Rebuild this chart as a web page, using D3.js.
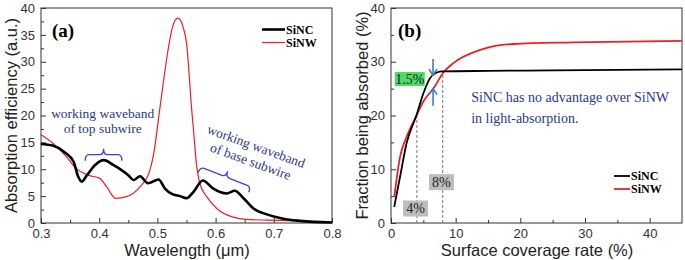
<!DOCTYPE html>
<html>
<head>
<meta charset="utf-8">
<script src="https://cdn.jsdelivr.net/npm/d3@7"></script>
<style>
  body { margin: 0; background: #fff; }
  svg { display: block; }
  .tick text { font-family: "Liberation Sans", Arial, sans-serif; font-size: 13px; fill: #333; }
  .axis path, .axis line { stroke: #333; }
  .title { font-family: "Liberation Sans", Arial, sans-serif; font-size: 16.5px; fill: #222; }
  .serif { font-family: "Liberation Serif", "Times New Roman", serif; }
</style>
</head>
<body>
<svg id="chart" width="685" height="260"></svg>
<script>
// panel (a): absorption efficiency vs wavelength
var wl_nc  = [0.30,0.32,0.34,0.356,0.364,0.370,0.379,0.393,0.408,0.424,0.439,0.450,0.459,0.470,0.484,0.502,0.513,0.525,0.539,0.550,0.562,0.578,0.596,0.619,0.633,0.648,0.665,0.688,0.716,0.745,0.80]
  , abs_nc = [14.7,14.4,13.2,11.4,8.6,7.7,8.9,10.8,11.7,10.8,9.8,8.9,8.0,8.7,7.4,8.1,6.4,5.4,5.0,4.6,5.8,7.9,6.4,5.5,6.0,4.6,2.7,1.6,0.8,0.4,0.1];
var wl_nw  = [0.30,0.321,0.344,0.358,0.381,0.401,0.413,0.428,0.447,0.470,0.487,0.495,0.502,0.510,0.518,0.526,0.535,0.544,0.550,0.559,0.562,0.567,0.573,0.585,0.602,0.630,0.659,0.717,0.80]
  , abs_nw = [16.4,14.8,12.3,10.4,8.9,8.3,6.7,4.6,4.9,6.7,9.8,13.8,19.5,26,32,36.5,38.1,36.5,33.5,21,17.3,11.1,7.3,4.85,2.7,1.1,0.63,0.5,0.1];

// panel (b): fraction absorbed vs surface coverage
var cov_nc  = [0.5,1.4,2.4,3.9,5.0,6.0,7.1,7.9,15,25,35,45]
  , frac_nc = [3.0,8.6,14.8,19.9,24.1,26.9,28.0,28.2,28.3,28.4,28.5,28.6];
var cov_nw  = [0.5,1.4,2.4,3.9,5.0,6.6,8.1,9.6,13.8,18.9,28.2,45]
  , frac_nw = [4.8,12.3,16.0,19.9,22.6,25.1,28.0,29.7,32.2,33.3,33.6,33.9];

var series_names = ["SiNC","SiNW"]
  , wl_ticks = [0.3,0.4,0.5,0.6,0.7,0.8]
  , abs_ticks = [0,5,10,15,20,25,30,35,40]
  , cov_ticks = [0,10,20,30,40]
  , frac_ticks = [0,10,20,30,40];

var svg = d3.select("#chart")
  , top_y = 8
  , bottom_y = 223
  , navy = "#2b3889"
  , brace_blue = "#3a3fe0";

function zip(xs, ys){ return xs.map((d,i) => [d, ys[i]]); }

// curly brace along x, opening downward, tip at top
function brace(x1, x2, h){
  var xm = (x1+x2)/2, r = 4;
  return "M"+x1+",0 Q"+x1+","+(-h/2)+" "+(x1+r)+","+(-h/2)
    +" L"+(xm-r)+","+(-h/2)+" Q"+xm+","+(-h/2)+" "+xm+","+(-h)
    +" Q"+xm+","+(-h/2)+" "+(xm+r)+","+(-h/2)
    +" L"+(x2-r)+","+(-h/2)+" Q"+x2+","+(-h/2)+" "+x2+",0";
}

function drawAxes(g, x, y, xt, yt, xfmt, xminor, yminor){
  var w = x.range()[1]-x.range()[0];
  // frame
  g.append("rect")
    .attr("x", x.range()[0]).attr("y", top_y)
    .attr("width", w).attr("height", bottom_y-top_y)
    .attr("fill","none").attr("stroke","#333").attr("stroke-width",1);
  g.append("g").attr("class","axis")
    .attr("transform","translate(0,"+bottom_y+")")
    .call(d3.axisBottom(x).tickValues(xt).tickFormat(xfmt).tickSizeInner(-5).tickSizeOuter(0).tickPadding(6))
    .call(a => a.select(".domain").remove());
  g.append("g").attr("class","axis")
    .attr("transform","translate(0,"+bottom_y+")")
    .call(d3.axisBottom(x).tickValues(xminor).tickFormat("").tickSizeInner(-3).tickSizeOuter(0))
    .call(a => a.select(".domain").remove());
  g.append("g").attr("class","axis")
    .attr("transform","translate("+x.range()[0]+",0)")
    .call(d3.axisLeft(y).tickValues(yt).tickSizeInner(-5).tickSizeOuter(0).tickPadding(6))
    .call(a => a.select(".domain").remove());
  g.append("g").attr("class","axis")
    .attr("transform","translate("+x.range()[0]+",0)")
    .call(d3.axisLeft(y).tickValues(yminor).tickFormat("").tickSizeInner(-3).tickSizeOuter(0))
    .call(a => a.select(".domain").remove());
}

function legend(g, x0, y0, len, widths){
  var colors = ["#000","#e8202a"];
  series_names.forEach(function(name,i){
    g.append("line")
      .attr("x1",x0).attr("x2",x0+len)
      .attr("y1",y0+i*13).attr("y2",y0+i*13)
      .attr("stroke",colors[i]).attr("stroke-width",widths[i]);
    g.append("text").attr("class","serif")
      .attr("x",x0+len+1).attr("y",y0+i*13+4)
      .attr("font-size",12).attr("font-weight","bold")
      .text(name);
  });
}

// ---------- panel (a) ----------
var ga = svg.append("g");
var xa = d3.scaleLinear().domain([0.3,0.8]).range([41,332])
  , ya = d3.scaleLinear().domain([0,40]).range([bottom_y,top_y]);

drawAxes(ga, xa, ya, wl_ticks, abs_ticks, d3.format(".1f"),
  [0.35,0.45,0.55,0.65,0.75], [2.5,7.5,12.5,17.5,22.5,27.5,32.5,37.5]);

var linea = d3.line().x(d => xa(d[0])).y(d => ya(d[1])).curve(d3.curveMonotoneX);
ga.append("path").datum(zip(wl_nw,abs_nw))
  .attr("d",linea).attr("fill","none").attr("stroke","#e8202a").attr("stroke-width",1.2);
ga.append("path").datum(zip(wl_nc,abs_nc))
  .attr("d",linea).attr("fill","none").attr("stroke","#000").attr("stroke-width",2.6);

ga.append("text").attr("class","serif")
  .attr("x",52).attr("y",37).attr("font-size",19).attr("font-weight","bold").text("(a)");
legend(ga, 262, 29.5, 23, [2.6,1.2]);

// top subwire note
ga.append("text").attr("class","serif").attr("fill",navy).attr("font-size",13.5)
  .attr("x",xa(0.406)).attr("y",ya(19.6)).attr("text-anchor","middle").text("working waveband");
ga.append("text").attr("class","serif").attr("fill",navy).attr("font-size",13.5)
  .attr("x",xa(0.406)).attr("y",ya(16.7)).attr("text-anchor","middle").text("of top subwire");
ga.append("path")
  .attr("transform","translate(0,"+ya(11.6)+")")
  .attr("d",brace(xa(0.376),xa(0.439),12))
  .attr("fill","none").attr("stroke",brace_blue).attr("stroke-width",1.3);

// base subwire note (rotated)
var gb_note = ga.append("g")
  .attr("transform","translate("+xa(0.667)+","+ya(13.5)+") rotate(20)");
gb_note.append("text").attr("class","serif").attr("fill",navy).attr("font-size",13.5)
  .attr("text-anchor","middle").attr("y",0).text("working waveband");
gb_note.append("text").attr("class","serif").attr("fill",navy).attr("font-size",13.5)
  .attr("text-anchor","middle").attr("y",16).text("of base subwire");
var bx1 = xa(0.57), by1 = ya(9.4), bx2 = xa(0.657), by2 = ya(5.7)
  , blen = Math.hypot(bx2-bx1, by2-by1)
  , bang = Math.atan2(by2-by1, bx2-bx1)*180/Math.PI;
ga.append("path")
  .attr("transform","translate("+bx1+","+by1+") rotate("+bang+")")
  .attr("d",brace(0,blen,12))
  .attr("fill","none").attr("stroke",brace_blue).attr("stroke-width",1.3);

ga.append("text").attr("class","title")
  .attr("x",187).attr("y",256).attr("text-anchor","middle").text("Wavelength (\u03bcm)");
ga.append("text").attr("class","title")
  .attr("transform","translate(17,"+ya(20)+") rotate(-90)")
  .attr("text-anchor","middle").text("Absorption efficiency (a.u.)");

// ---------- panel (b) ----------
var gb = svg.append("g");
var xb = d3.scaleLinear().domain([0,45]).range([391,682])
  , yb = d3.scaleLinear().domain([0,40]).range([bottom_y,top_y]);

drawAxes(gb, xb, yb, cov_ticks, frac_ticks, d3.format("d"),
  [5,15,25,35], [5,15,25,35]);

// dashed guides at 4% and 8%
[[4,19.9],[8,28.2]].forEach(function(p){
  gb.append("line")
    .attr("x1",xb(p[0])).attr("x2",xb(p[0]))
    .attr("y1",yb(0)).attr("y2",yb(p[1]))
    .attr("stroke","#777").attr("stroke-width",1).attr("stroke-dasharray","3,2");
});

var lineb = d3.line().x(d => xb(d[0])).y(d => yb(d[1])).curve(d3.curveMonotoneX);
gb.append("path").datum(zip(cov_nw,frac_nw))
  .attr("d",lineb).attr("fill","none").attr("stroke","#e8202a").attr("stroke-width",1.8);
gb.append("path").datum(zip(cov_nc,frac_nc))
  .attr("d",lineb).attr("fill","none").attr("stroke","#000").attr("stroke-width",1.8);

gb.append("text").attr("class","serif")
  .attr("x",398).attr("y",37).attr("font-size",19).attr("font-weight","bold").text("(b)");
legend(gb, 614, 176, 16, [1.8,1.8]);

// labelled boxes
function tagBox(cx, cy, w, h, label, fill){
  gb.append("rect").attr("x",cx-w/2).attr("y",cy-h/2).attr("width",w).attr("height",h).attr("fill",fill);
  gb.append("text").attr("class","serif").attr("x",cx).attr("y",cy+5)
    .attr("text-anchor","middle").attr("font-size",14).attr("fill","#222").text(label);
}
tagBox(xb(2.9), yb(26.8), 30, 14, "1.5%", "#4ddc66");
tagBox(xb(7.8), yb(7.6), 25, 16, "8%", "#bdbdbd");
tagBox(xb(3.8), yb(2.7), 25, 16, "4%", "#bdbdbd");

// arrows marking the 1.5% gap
var ax = xb(6.5), arrowCol = "#3a7fc1";
function arrow(yTail, yTip){
  var s = yTip > yTail ? -1 : 1;
  gb.append("line").attr("x1",ax).attr("x2",ax).attr("y1",yTail).attr("y2",yTip)
    .attr("stroke",arrowCol).attr("stroke-width",1.6);
  gb.append("path").attr("d","M"+(ax-4)+","+(yTip+s*6)+" L"+ax+","+yTip+" L"+(ax+4)+","+(yTip+s*6))
    .attr("fill","none").attr("stroke",arrowCol).attr("stroke-width",1.6);
}
arrow(yb(30.5), yb(27.5));
arrow(yb(21.8), yb(25.0));

gb.append("text").attr("class","serif").attr("fill",navy).attr("font-size",14)
  .attr("x",xb(12.4)).attr("y",yb(22.6)).text("SiNC has no advantage over SiNW");
gb.append("text").attr("class","serif").attr("fill",navy).attr("font-size",14)
  .attr("x",xb(12.4)).attr("y",yb(18.6)).text("in light-absorption.");

gb.append("text").attr("class","title")
  .attr("x",537).attr("y",256).attr("text-anchor","middle").text("Surface coverage rate (%)");
gb.append("text").attr("class","title")
  .attr("transform","translate(368,"+yb(20)+") rotate(-90)")
  .attr("text-anchor","middle").text("Fraction being absorbed  (%)");
</script>
</body>
</html>
